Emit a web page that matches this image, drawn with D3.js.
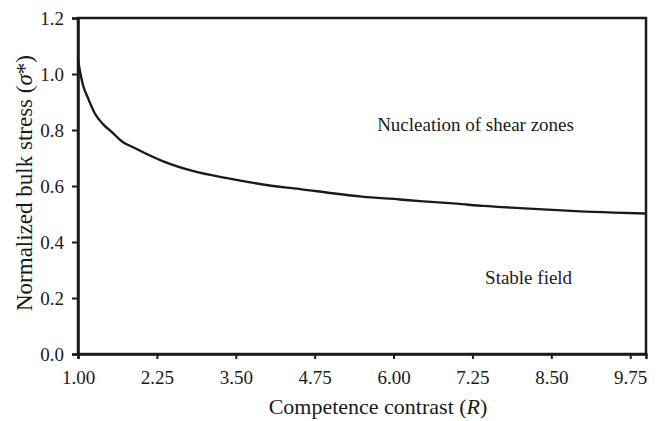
<!DOCTYPE html>
<html><head><meta charset="utf-8">
<script src="https://cdn.jsdelivr.net/npm/d3@7"></script>
<style>
body{margin:0;background:#fff;}
svg text{font-family:"Liberation Serif","Times New Roman",serif;fill:#1a1a1a;}
</style></head>
<body><svg id="c" width="656" height="421"></svg>
<script>
const rValues = [1.00,1.04,1.08,1.16,1.27,1.40,1.55,1.67,1.93,2.35,2.83,3.36,3.78,4.31,4.52,5.00,5.50,6.10,6.42,7.00,7.42,8.00,8.74,9.48,10.0];
const sigmaValues = [1.05,1.00,0.96,0.913,0.858,0.82,0.79,0.764,0.732,0.688,0.653,0.628,0.611,0.594,0.589,0.575,0.562,0.552,0.546,0.537,0.529,0.521,0.512,0.505,0.502];
const xTicks = [1.00,2.25,3.50,4.75,6.00,7.25,8.50,9.75];
const yTicks = [0,0.2,0.4,0.6,0.8,1.0,1.2];
const annotations = [
  {text:"Nucleation of shear zones", r:5.74, s:0.796},
  {text:"Stable field", r:7.45, s:0.25}
];

const svg = d3.select("#c");
const L=78, R=646, T=18, B=354;
const x = d3.scaleLinear().domain([1,10]).range([L,R]);
const y = d3.scaleLinear().domain([0,1.2]).range([B,T]);
const ink="#1a1a1a";

// frame
svg.append("rect").attr("x",L).attr("y",T).attr("width",R-L).attr("height",B-T)
  .attr("fill","none").attr("stroke",ink).attr("stroke-width",2.5);

// y axis
const yAxis = d3.axisLeft(y).tickValues(yTicks).tickFormat(d3.format(".1f")).tickSize(6).tickPadding(8);
const gy = svg.append("g").attr("transform",`translate(${L},0)`).call(yAxis);
gy.select(".domain").attr("stroke",ink).attr("stroke-width",2.5);
gy.selectAll(".tick line").attr("stroke",ink).attr("stroke-width",2);
gy.selectAll(".tick text").style("font-size","19px").attr("fill",ink).attr("dy","0.35em");

// x axis
const xAxis = d3.axisBottom(x).tickValues(xTicks).tickFormat(d3.format(".2f")).tickSize(5).tickPadding(12);
const gx = svg.append("g").attr("transform",`translate(0,${B})`).call(xAxis);
gx.select(".domain").attr("stroke",ink).attr("stroke-width",2.5);
gx.selectAll(".tick line").attr("stroke",ink).attr("stroke-width",2);
gx.selectAll(".tick text").style("font-size","19px").attr("fill",ink);

// curve
const data = rValues.map((r,i)=>({r, s:sigmaValues[i]}));
svg.append("path").datum(data)
  .attr("fill","none").attr("stroke",ink).attr("stroke-width",2.4)
  .attr("d", d3.line().x(d=>x(d.r)).y(d=>y(d.s)).curve(d3.curveMonotoneX));

// annotations
svg.selectAll(".ann").data(annotations).enter().append("text")
  .attr("x",d=>x(d.r)).attr("y",d=>y(d.s))
  .style("font-size","19px").text(d=>d.text);

// axis titles
const xt = svg.append("text").attr("x",378).attr("y",414).attr("text-anchor","middle").style("font-size","22px");
xt.append("tspan").text("Competence contrast (");
xt.append("tspan").attr("font-style","italic").text("R");
xt.append("tspan").text(")");

const yt = svg.append("text").attr("transform","translate(32,183) rotate(-90)").attr("text-anchor","middle").style("font-size","23px");
yt.append("tspan").text("Normalized bulk stress (");
yt.append("tspan").attr("font-style","italic").text("σ");
yt.append("tspan").text("*)");
</script></body></html>
